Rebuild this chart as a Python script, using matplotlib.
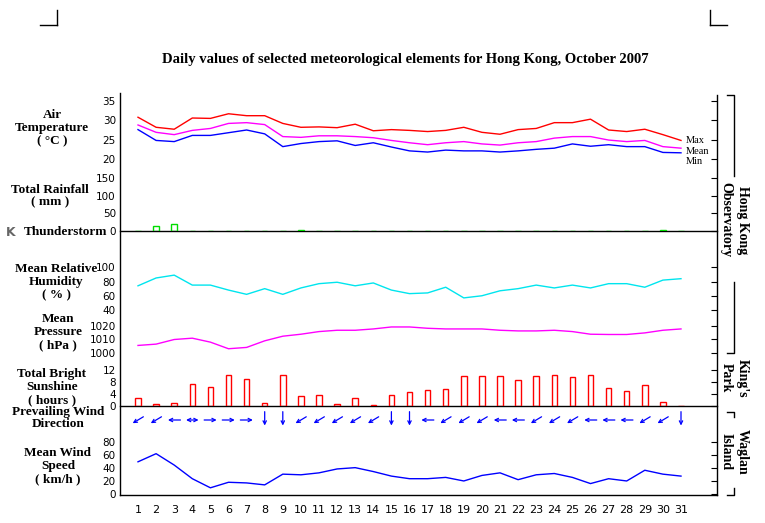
import matplotlib
matplotlib.use("Agg")
import matplotlib.pyplot as plt
from matplotlib.transforms import offset_copy
import numpy as np

days = list(range(1, 32))
temp_max = [30.8,28.2,27.7,30.6,30.5,31.7,31.2,31.2,29.2,28.2,28.3,28.1,29.0,27.3,27.6,27.4,27.1,27.4,28.2,26.9,26.4,27.6,27.9,29.4,29.4,30.3,27.5,27.1,27.7,26.3,24.8]
temp_mean = [28.8,26.9,26.3,27.4,27.9,29.2,29.4,28.9,25.8,25.6,26.0,26.0,25.8,25.5,24.8,24.2,23.7,24.2,24.5,23.9,23.6,24.2,24.5,25.4,25.8,25.8,24.9,24.5,24.8,23.2,22.8]
temp_min = [27.6,24.8,24.5,26.1,26.1,26.8,27.5,26.5,23.2,24.0,24.5,24.7,23.5,24.2,23.1,22.1,21.8,22.3,22.1,22.1,21.8,22.1,22.5,22.8,23.9,23.3,23.7,23.2,23.2,21.7,21.6]
rainfall = [0,15,21,0,0,0,0,0,0,1.5,0,0.3,0.3,0.3,0,0,0,0,0,0,0,0,0,0,0,0,0,0,0,4,0.3]
humidity = [74,85,89,75,75,68,62,70,62,71,77,79,74,78,68,63,64,72,57,60,67,70,75,71,75,71,77,77,72,82,84]
pressure = [1005.5,1006.5,1010,1011,1008,1003,1004,1009,1012.5,1014,1016,1017,1017,1018,1019.5,1019.5,1018.5,1018,1018,1018,1017,1016.5,1016.5,1017,1016,1014,1013.8,1013.8,1015,1017,1018]
sunshine = [2.6,0.6,0.9,7.3,6.4,10.3,9.0,0.9,10.3,3.3,3.6,0.6,2.6,0.2,3.6,4.6,5.3,5.6,10.0,10.0,10.0,8.7,10.0,10.3,9.7,10.3,6.0,5.0,7.0,1.3,0.05]
wind_dir = ['NE','NE','E','VAR','W','W','W','N','N','NE','NE','NE','NE','NE','N','N','E','NE','NE','NE','E','E','NE','NE','NE','E','E','E','NE','NE','N']
wind_speed = [50,62.5,45,24,10,18.5,17.5,14.5,31,30,33,39,41,35,28,24,24,26,20.5,29,33,22.5,30,32,26,16.5,24,20.5,37,31,28]

W, H = 765, 523
fig = plt.figure(figsize=(W/100, H/100), dpi=100)
X0, X1 = 120, 717
px_per_day = (681-138)/30
xlim = (1 - (138-X0)/px_per_day, 31 + (X1-681)/px_per_day)

def make_ax(top, bottom, v1, p1, v2, p2):
    ax = fig.add_axes([X0/W, 1-bottom/H, (X1-X0)/W, (bottom-top)/H])
    k = (v1-v2)/(p2-p1)
    ax.set_ylim(v2 - (bottom-p2)*k, v1 + (p1-top)*k)
    ax.set_xlim(*xlim)
    ax.patch.set_alpha(0)
    for s in ax.spines.values():
        s.set_visible(False)
    ax.set_xticks([])
    ax.tick_params(axis='y', left=False, right=True, direction='in', length=4,
                   labelsize=7.5, pad=3, width=0.8)
    return ax

tfont = dict(family='Liberation Serif', weight='bold', fontsize=9.5)

# temperature
ax = make_ax(92, 168, 35, 101, 20, 159)
ax.plot(days, temp_max, color='red', lw=1)
ax.plot(days, temp_mean, color='magenta', lw=1)
ax.plot(days, temp_min, color='blue', lw=1)
ax.set_yticks([20,25,30,35])
for s, v in zip(['Max','Mean','Min'], [0, 1, 2]):
    fig.text(686/W, 1-(140+v*11)/H, s, family='Liberation Serif', fontsize=7.5, va='center')

# rainfall
ax = make_ax(168, 231, 150, 178, 0, 231)
ax.bar(days, rainfall, width=0.3, bottom=0, fill=False, edgecolor='#00dd00', lw=1)
ax.set_yticks([0,50,100,150])

# humidity
ax = make_ax(255, 316, 100, 267.3, 40, 310)
ax.plot(days, humidity, color='#00e5ee', lw=1)
ax.set_yticks([40,60,80,100])

# pressure
ax = make_ax(318, 358, 1020, 326.3, 1000, 352.7)
ax.plot(days, pressure, color='magenta', lw=1)
ax.set_yticks([1000,1010,1020])

# sunshine
ax = make_ax(362, 406, 12, 370.3, 0, 406)
ax.bar(days, sunshine, width=0.3, fill=False, edgecolor='red', lw=1)
ax.set_yticks([0,4,8,12])

# wind direction
ax = make_ax(406, 434, 1, 406, 0, 434)
ax.set_yticks([])
vec = {'NE': (-1, -0.6), 'E': (-1, 0), 'W': (1, 0), 'N': (0, -1), 'VAR': (1, 0)}
for d, wd in zip(days, wind_dir):
    ux, uy = vec[wd]
    n = np.hypot(ux, uy)
    L = 4.5 if wd != 'N' else 5
    hx, hy = ux/n*L, uy/n*L
    yc = 0.5 if wd != 'N' else 0.55
    style = '<->' if wd == 'VAR' else '->'
    ax.annotate('', xy=(d, yc), xycoords=offset_copy(ax.transData, fig=fig, x=hx, y=hy, units='points'),
                xytext=(d, yc), textcoords=offset_copy(ax.transData, fig=fig, x=-hx, y=-hy, units='points'),
                arrowprops=dict(arrowstyle=style, color='blue', lw=0.9, shrinkA=0, shrinkB=0,
                                mutation_scale=6))

# wind speed
ax = make_ax(434, 495, 80, 442.3, 0, 494.3)
ax.plot(days, wind_speed, color='blue', lw=1)
ax.set_yticks([0,20,40,60,80])
ax.set_xticks(days)
ax.set_xticklabels([str(d) for d in days])
ax.tick_params(axis='x', length=0, labelsize=8, pad=7)

# frame / decoration in pixel space
bg = fig.add_axes([0, 0, 1, 1], zorder=-1)
bg.set_xlim(0, W); bg.set_ylim(H, 0); bg.axis('off')
k = dict(color='black', lw=1)
bg.plot([X0, X0], [93, 495], **k)
bg.plot([X1, X1], [95, 495], **k)
bg.plot([X0, X1], [495, 495], **k)
bg.plot([X0, X1], [231, 231], **k)
bg.plot([X0, X1], [406, 406], **k)
bg.plot([57, 57], [10, 25], **k); bg.plot([40, 57], [25, 25], **k)
bg.plot([710, 710], [10, 25], **k); bg.plot([710, 727], [25, 25], **k)
# station brackets
bg.plot([727, 734, 734], [95, 95, 176], **k)
bg.plot([734, 734, 727], [282, 353, 353], **k)
bg.plot([727, 734, 734], [412, 412, 417], **k)
bg.plot([734, 734, 727], [488, 495, 495], **k)
sfont = dict(family='Liberation Serif', weight='bold', fontsize=10, rotation=-90,
             ha='center', va='center', linespacing=1.3)
fig.text(734/W, 1-220/H, 'Hong Kong\nObservatory', **sfont)
fig.text(734/W, 1-378/H, "King's\nPark", **sfont)
fig.text(734/W, 1-452/H, 'Waglan\nIsland', **sfont)

fig.text(405/W, 1-60/H, 'Daily values of selected meteorological elements for Hong Kong, October 2007',
         ha='center', va='center', family='Liberation Serif', weight='bold', fontsize=10.5)
labels = [(52, 128, 'Air\nTemperature\n( °C )'), (50, 196, 'Total Rainfall\n( mm )'),
          (56, 282, 'Mean Relative\nHumidity\n( % )'), (58, 332, 'Mean\nPressure\n( hPa )'),
          (52, 387, 'Total Bright\nSunshine\n( hours )'), (58, 418, 'Prevailing Wind\nDirection'),
          (58, 466, 'Mean Wind\nSpeed\n( km/h )')]
for x, y, s in labels:
    fig.text(x/W, 1-y/H, s, ha='center', va='center', linespacing=1.1, **tfont)
fig.text(24/W, 1-232/H, 'Thunderstorm', ha='left', va='center', **tfont)
fig.text(6/W, 1-232/H, 'K', ha='left', va='center', color='#666666', family='DejaVu Sans',
         weight='bold', fontsize=9)

fig.savefig('out.png', dpi=100)
